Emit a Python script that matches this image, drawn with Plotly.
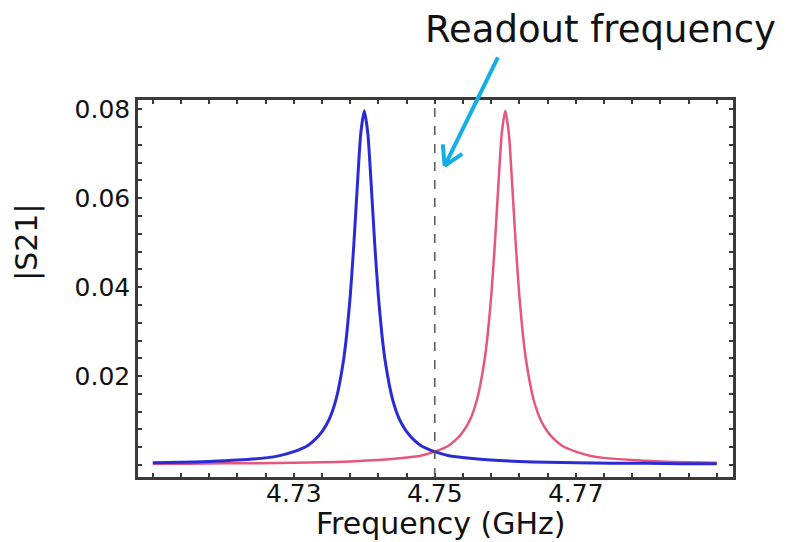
import plotly.graph_objects as go

# |S21| 공진 곡선
blue_freq = [4.710, 4.714, 4.718, 4.722, 4.726, 4.728, 4.730, 4.732, 4.733, 4.734,
             4.735, 4.736, 4.737, 4.7375, 4.738, 4.7385, 4.739, 4.7395, 4.740, 4.7405,
             4.741, 4.7415, 4.742, 4.7425, 4.743, 4.744, 4.745, 4.746, 4.747, 4.748,
             4.750, 4.752, 4.755, 4.758, 4.762, 4.766, 4.770, 4.775, 4.780, 4.785,
             4.790]
blue_s21 = [0.0005, 0.0006, 0.0008, 0.0011, 0.0016, 0.0021, 0.0030, 0.0044, 0.0057, 0.0075,
            0.0102, 0.0148, 0.0230, 0.0293, 0.0379, 0.0492, 0.0625, 0.0746, 0.0797, 0.0746,
            0.0625, 0.0492, 0.0379, 0.0293, 0.0230, 0.0148, 0.0102, 0.0075, 0.0057, 0.0044,
            0.0030, 0.0021, 0.0015, 0.0011, 0.0008, 0.0006, 0.0005, 0.0004, 0.0004, 0.0003,
            0.0003]

red_freq = [4.710, 4.715, 4.720, 4.725, 4.730, 4.734, 4.738, 4.742, 4.745, 4.748,
            4.750, 4.752, 4.753, 4.754, 4.755, 4.756, 4.757, 4.7575, 4.758, 4.7585,
            4.759, 4.7595, 4.760, 4.7605, 4.761, 4.7615, 4.762, 4.7625, 4.763, 4.764,
            4.765, 4.766, 4.767, 4.768, 4.770, 4.772, 4.774, 4.778, 4.782, 4.786,
            4.790]
red_s21 = [0.0003, 0.0003, 0.0004, 0.0004, 0.0005, 0.0006, 0.0008, 0.0011, 0.0015, 0.0021,
           0.0030, 0.0044, 0.0057, 0.0075, 0.0102, 0.0148, 0.0230, 0.0293, 0.0379, 0.0492,
           0.0625, 0.0746, 0.0797, 0.0746, 0.0625, 0.0492, 0.0379, 0.0293, 0.0230, 0.0148,
           0.0102, 0.0075, 0.0057, 0.0044, 0.0030, 0.0021, 0.0016, 0.0011, 0.0008, 0.0006,
           0.0005]

readout_freq = 4.75

x_tickvals = [4.710, 4.714, 4.718, 4.722, 4.726, 4.730, 4.734, 4.738, 4.742, 4.746,
              4.750, 4.754, 4.758, 4.762, 4.766, 4.770, 4.774, 4.778, 4.782, 4.786, 4.790]
x_ticktext = ["", "", "", "", "", "4.73", "", "", "", "",
              "4.75", "", "", "", "", "4.77", "", "", "", "", ""]
y_tickvals = [0.000, 0.004, 0.008, 0.012, 0.016, 0.020, 0.024, 0.028, 0.032, 0.036,
              0.040, 0.044, 0.048, 0.052, 0.056, 0.060, 0.064, 0.068, 0.072, 0.076, 0.080]
y_ticktext = ["", "", "", "", "", "0.02", "", "", "", "",
              "0.04", "", "", "", "", "0.06", "", "", "", "", "0.08"]

BLUE = "#2a2ad6"
RED = "#e6557a"
ARROW = "#14aee6"
FONT = "DejaVu Sans"

fig = go.Figure()
fig.add_trace(go.Scatter(
    x=red_freq, y=red_s21, mode="lines",
    line=dict(color=RED, width=2.5, shape="spline", smoothing=0.6),
    showlegend=False,
))
fig.add_trace(go.Scatter(
    x=blue_freq, y=blue_s21, mode="lines",
    line=dict(color=BLUE, width=3, shape="spline", smoothing=0.6),
    showlegend=False,
))

# 리드아웃 주파수 점선
fig.add_shape(type="line", x0=readout_freq, x1=readout_freq, y0=0, y1=1,
              xref="x", yref="paper", line=dict(color="#555555", width=1.5, dash="dash"))

# 화살표: 몸통 + V자 머리 (끝점 기준 픽셀 오프셋)
tip_x, tip_y = 4.7514, 0.0673
for ax, ay in [(54, -110), (19, -13), (-2, -23)]:
    fig.add_annotation(x=tip_x, y=tip_y, xref="x", yref="y", text="",
                       showarrow=True, arrowhead=0, arrowwidth=4,
                       arrowcolor=ARROW, ax=ax, ay=ay)
fig.add_annotation(x=0.778, y=1.186, xref="paper", yref="paper",
                   text="Readout frequency", showarrow=False,
                   xanchor="center", yanchor="middle",
                   font=dict(family=FONT, size=37, color="#111111"))

# 축 제목
fig.add_annotation(x=0.509, y=-0.124, xref="paper", yref="paper",
                   text="Frequency (GHz)", showarrow=False,
                   xanchor="center", yanchor="middle",
                   font=dict(family=FONT, size=30, color="#111111"))
fig.add_annotation(x=-0.187, y=0.623, xref="paper", yref="paper",
                   text="|S21|", showarrow=False, textangle=-90,
                   xanchor="center", yanchor="middle",
                   font=dict(family=FONT, size=30, color="#111111"))

axis_common = dict(
    showline=True, linewidth=2.5, linecolor="#3a3a3a", mirror="allticks",
    ticks="inside", ticklen=4, tickwidth=1.5, tickcolor="#3a3a3a",
    showgrid=False, zeroline=False,
    tickfont=dict(family=FONT, size=25, color="#111111"),
)

fig.update_xaxes(range=[4.7079, 4.7923], tickmode="array",
                 tickvals=x_tickvals, ticktext=x_ticktext, ticklabelstandoff=-8,
                 **axis_common)
fig.update_yaxes(range=[-0.0027, 0.0821], tickmode="array",
                 tickvals=y_tickvals, ticktext=y_ticktext, ticklabelstandoff=0,
                 **axis_common)

# 페이지 body 여백(8px)을 감안해 크기/여백 보정
fig.update_layout(
    width=779, height=534,
    margin=dict(l=130, r=54, t=92, b=65),
    paper_bgcolor="white", plot_bgcolor="white",
    font=dict(family=FONT),
)

fig.write_html("out.html")
